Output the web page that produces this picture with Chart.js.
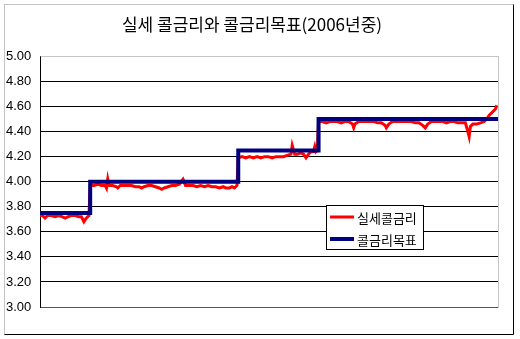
<!DOCTYPE html>
<html>
<head>
<meta charset="utf-8">
<script src="https://cdn.jsdelivr.net/npm/chart.js@4.4.1/dist/chart.umd.min.js"></script>
<style>
  html, body { margin: 0; padding: 0; background: #fff; }
  canvas { display: block; }
</style>
</head>
<body>
<canvas id="rateChart" width="520" height="339"></canvas>
<script>
const chartTitle = '실세 콜금리와 콜금리목표(2006년중)';
const seriesNames = ['실세콜금리', '콜금리목표'];
const yTicks = [3.00, 3.20, 3.40, 3.60, 3.80, 4.00, 4.20, 4.40, 4.60, 4.80, 5.00];

// day of year (0 = Jan 1st, 2006)
const callDays = [
    0, 2, 4, 6, 9, 12, 15, 18, 20, 22, 25, 28, 31, 33, 35, 37, 39,
    40, 43, 46, 49, 52, 53, 54, 55, 58, 61, 62, 64, 67, 70, 73, 76, 79, 81, 83, 86, 89, 92, 95, 97, 99,
    102, 105, 108, 111, 114, 116, 119, 122, 125, 128, 131, 134, 137, 140, 143, 146, 148, 151, 153, 155, 157,
    158, 161, 164, 167, 170, 173, 176, 179, 182, 185, 188, 191, 194, 197, 200, 201, 203, 205, 208, 210,
    212, 214, 216, 218, 219, 220, 221,
    222, 225, 228, 231, 234, 237, 240, 243, 246, 249, 250, 251, 254, 257, 260, 263, 266, 269, 272, 275,
    276, 278, 281, 284, 287, 290, 293, 296, 299, 302, 305, 307, 309, 312, 315, 318, 321, 324, 327, 330,
    333, 336, 339, 341, 342, 343, 345, 348, 351, 354, 356, 358, 360, 362, 363, 364
];
const callRates = [
    3.73, 3.73, 3.71, 3.73, 3.73, 3.72, 3.73, 3.72, 3.71, 3.72, 3.73, 3.73, 3.72, 3.72, 3.68, 3.71, 3.73,
    3.97, 3.97, 3.98, 3.97, 3.97, 3.95, 4.02, 3.97, 3.97, 3.96, 3.95, 3.97, 3.97, 3.97, 3.97, 3.96, 3.96, 3.95, 3.96, 3.97, 3.97, 3.96, 3.95, 3.94, 3.95,
    3.96, 3.97, 3.97, 3.98, 4.02, 3.97, 3.97, 3.97, 3.96, 3.97, 3.96, 3.97, 3.96, 3.96, 3.95, 3.96, 3.95, 3.95, 3.96, 3.95, 3.97,
    4.19, 4.20, 4.19, 4.20, 4.19, 4.20, 4.19, 4.20, 4.20, 4.19, 4.20, 4.20, 4.20, 4.21, 4.22, 4.29, 4.22, 4.22, 4.23, 4.22,
    4.19, 4.22, 4.24, 4.24, 4.28, 4.24, 4.25,
    4.48, 4.48, 4.47, 4.48, 4.48, 4.48, 4.47, 4.48, 4.48, 4.46, 4.43, 4.46, 4.48, 4.48, 4.48, 4.48, 4.48, 4.47, 4.47, 4.45,
    4.43, 4.46, 4.48, 4.48, 4.48, 4.48, 4.48, 4.48, 4.47, 4.47, 4.45, 4.43, 4.46, 4.48, 4.48, 4.48, 4.48, 4.47, 4.48, 4.48,
    4.47, 4.47, 4.47, 4.40, 4.36, 4.44, 4.46, 4.46, 4.47, 4.48, 4.50, 4.53, 4.55, 4.57, 4.58, 4.61
];

// target rate changes (stepped)
const targetDays = [0, 40, 158, 222, 365];
const targetRates = [3.75, 4.00, 4.25, 4.50, 4.50];

const toPoints = (xs, ys) => xs.map((x, i) => ({ x: x, y: ys[i] }));

// white page, outer frame, plot frame and the boxed legend
const framePlugin = {
    id: 'frame',
    beforeDraw(chart) {
        const ctx = chart.ctx;
        ctx.save();
        ctx.fillStyle = '#fff';
        ctx.fillRect(0, 0, chart.width, chart.height);
        ctx.lineWidth = 1;
        ctx.strokeStyle = '#888';
        ctx.setLineDash([1, 1]);
        ctx.beginPath();
        ctx.moveTo(4.5, 334.5);
        ctx.lineTo(4.5, 4.5);
        ctx.lineTo(513.5, 4.5);
        ctx.stroke();
        ctx.setLineDash([]);
        ctx.strokeStyle = '#000';
        ctx.beginPath();
        ctx.moveTo(513.5, 4.5);
        ctx.lineTo(513.5, 334.5);
        ctx.lineTo(4.5, 334.5);
        ctx.stroke();
        ctx.restore();
    },
    beforeDatasetsDraw(chart) {
        const { ctx, chartArea: a } = chart;
        ctx.save();
        ctx.lineWidth = 1;
        ctx.strokeStyle = '#888';
        ctx.setLineDash([1, 1]);
        ctx.beginPath();
        ctx.moveTo(Math.round(a.left) + 0.5, Math.round(a.top) + 0.5);
        ctx.lineTo(Math.round(a.right) + 0.5, Math.round(a.top) + 0.5);
        ctx.lineTo(Math.round(a.right) + 0.5, Math.round(a.bottom) + 0.5);
        ctx.stroke();
        ctx.restore();
    },
    afterDraw(chart) {
        const ctx = chart.ctx;
        const box = { x: 326.5, y: 205.5, w: 97, h: 44 };
        ctx.save();
        ctx.fillStyle = '#fff';
        ctx.fillRect(box.x, box.y, box.w, box.h);
        ctx.strokeStyle = '#000';
        ctx.lineWidth = 1;
        ctx.strokeRect(box.x, box.y, box.w, box.h);
        ctx.font = '13px "Noto Sans CJK KR"';
        ctx.textBaseline = 'middle';
        ctx.fillStyle = '#000';
        chart.data.datasets.forEach((ds, i) => {
            const y = 217 + i * 22;
            ctx.strokeStyle = ds.borderColor;
            ctx.lineWidth = ds.borderWidth;
            ctx.beginPath();
            ctx.moveTo(330, y);
            ctx.lineTo(354, y);
            ctx.stroke();
            ctx.fillText(ds.label, 357, y + 1);
        });
        ctx.restore();
    }
};

const ctxRate = document.getElementById('rateChart').getContext('2d');
const rateChart = new Chart(ctxRate, {
    type: 'line',
    data: {
        datasets: [{
            label: seriesNames[0],
            data: toPoints(callDays, callRates),
            borderColor: '#ff0000',
            borderWidth: 3,
            pointRadius: 0,
            tension: 0,
            order: 1
        }, {
            label: seriesNames[1],
            data: toPoints(targetDays, targetRates),
            borderColor: '#000080',
            borderWidth: 4,
            pointRadius: 0,
            stepped: true,
            order: 0
        }]
    },
    options: {
        responsive: false,
        animation: false,
        devicePixelRatio: 1,
        layout: { padding: { left: 6, right: 22, top: 0, bottom: 32 } },
        plugins: {
            legend: { display: false },
            tooltip: { enabled: false },
            title: {
                display: true,
                text: chartTitle,
                color: '#000',
                font: { family: '"Noto Sans CJK KR"', size: 17, weight: 'normal' },
                padding: { top: 14, bottom: 22 }
            }
        },
        scales: {
            x: { type: 'linear', min: 0, max: 365, display: false },
            y: {
                min: 3, max: 5,
                afterBuildTicks: (scale) => { scale.ticks = yTicks.map(v => ({ value: v })); },
                afterFit: (scale) => { scale.width = 34; },
                border: { display: true, color: '#000', width: 1 },
                grid: {
                    drawTicks: false,
                    color: (c) => c.tick.value === 5 ? 'rgba(0,0,0,0)' : (c.tick.value === 3 ? '#555' : '#000'),
                    lineWidth: 1
                },
                ticks: {
                    crossAlign: 'far',
                    padding: 0,
                    color: '#000',
                    font: { family: '"Liberation Sans", Arial, sans-serif', size: 13 },
                    callback: (v) => Number(v).toFixed(2)
                }
            }
        }
    },
    plugins: [framePlugin]
});
</script>
</body>
</html>
